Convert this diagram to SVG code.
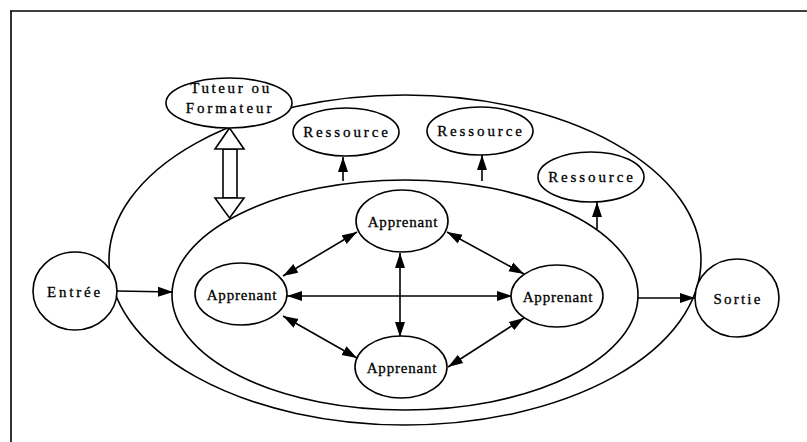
<svg xmlns="http://www.w3.org/2000/svg" width="807" height="442" viewBox="0 0 807 442">
<style>
.shape{fill:#fff;stroke:#000;stroke-width:1.6}
.big{fill:none;stroke:#000;stroke-width:1.6}
.line{fill:none;stroke:#000;stroke-width:1.6}
.t{font-family:"Liberation Serif","Times New Roman",serif;font-size:15px;fill:#000;stroke:#000;stroke-width:0.3;text-anchor:middle;letter-spacing:2.6px}
.ta{font-family:"Liberation Serif","Times New Roman",serif;font-size:15px;fill:#000;stroke:#000;stroke-width:0.3;text-anchor:middle;letter-spacing:0.8px}
</style>
<defs>
<marker id="ah" markerUnits="userSpaceOnUse" markerWidth="17" markerHeight="11" refX="15" refY="5.5" orient="auto-start-reverse">
<path d="M0,0.5 L15,5.5 L0,10.5 Z" fill="#000"/>
</marker>
</defs>
<rect width="807" height="442" fill="#fff"/>
<g id="frame">
<line x1="10" y1="11" x2="807" y2="11" class="line"/>
<line x1="11" y1="11" x2="11" y2="442" class="line"/>
</g>
<g id="outer-zone"><ellipse cx="405" cy="260" rx="296" ry="165" class="big"/></g>
<g id="inner-zone"><ellipse cx="405" cy="295" rx="233" ry="115" class="big"/></g>
<g id="connectors">
<line x1="117" y1="291" x2="173" y2="292" class="line" marker-end="url(#ah)"/>
<line x1="638" y1="298" x2="695" y2="298" class="line" marker-end="url(#ah)"/>
<line x1="287" y1="296" x2="512" y2="296" class="line" marker-start="url(#ah)" marker-end="url(#ah)"/>
<line x1="400" y1="253" x2="400" y2="337" class="line" marker-start="url(#ah)" marker-end="url(#ah)"/>
<line x1="283" y1="276" x2="357" y2="232" class="line" marker-start="url(#ah)" marker-end="url(#ah)"/>
<line x1="283" y1="316" x2="357" y2="358" class="line" marker-start="url(#ah)" marker-end="url(#ah)"/>
<line x1="447" y1="232" x2="524" y2="274" class="line" marker-start="url(#ah)" marker-end="url(#ah)"/>
<line x1="524" y1="318" x2="448" y2="367" class="line" marker-start="url(#ah)" marker-end="url(#ah)"/>
<line x1="343" y1="181" x2="343" y2="157" class="line" marker-end="url(#ah)"/>
<line x1="482" y1="181" x2="482" y2="155" class="line" marker-end="url(#ah)"/>
<line x1="597" y1="229" x2="597" y2="202" class="line" marker-end="url(#ah)"/>
<g id="tutor-link">
<rect x="223" y="149" width="14" height="49" class="shape"/>
<path d="M229.5,128 L244,149 L215,149 Z" class="shape"/>
<path d="M229.5,218 L244,198 L215,198 Z" class="shape"/>
</g>
</g>
<g id="tuteur">
<ellipse cx="229" cy="103" rx="63" ry="25" class="shape"/>
<text x="231" y="93" class="t">Tuteur ou</text>
<text x="230" y="113" class="t" style="letter-spacing:2.9px">Formateur</text>
</g>
<g id="ressource1">
<ellipse cx="346" cy="132" rx="53" ry="24" class="shape"/>
<text x="347" y="137" class="t" style="letter-spacing:2.9px">Ressource</text>
</g>
<g id="ressource2">
<ellipse cx="480" cy="131" rx="53" ry="24" class="shape"/>
<text x="481" y="136" class="t" style="letter-spacing:2.9px">Ressource</text>
</g>
<g id="ressource3">
<ellipse cx="591" cy="177" rx="53" ry="25" class="shape"/>
<text x="592" y="182" class="t" style="letter-spacing:2.9px">Ressource</text>
</g>
<g id="entree">
<ellipse cx="75" cy="291" rx="42" ry="39" class="shape"/>
<text x="75" y="297" class="t" style="letter-spacing:2.8px">Entrée</text>
</g>
<g id="sortie">
<ellipse cx="737" cy="298" rx="42" ry="39" class="shape"/>
<text x="738" y="304" class="t" style="letter-spacing:2.2px">Sortie</text>
</g>
<g id="apprenant-top">
<ellipse cx="402" cy="221" rx="46" ry="31" class="shape"/>
<text x="403" y="227" class="ta">Apprenant</text>
</g>
<g id="apprenant-left">
<ellipse cx="241" cy="294" rx="46" ry="31" class="shape"/>
<text x="242" y="300" class="ta">Apprenant</text>
</g>
<g id="apprenant-right">
<ellipse cx="557" cy="296" rx="46" ry="31" class="shape"/>
<text x="558" y="302" class="ta">Apprenant</text>
</g>
<g id="apprenant-bottom">
<ellipse cx="401" cy="367" rx="46" ry="31" class="shape"/>
<text x="402" y="373" class="ta">Apprenant</text>
</g>
</svg>
